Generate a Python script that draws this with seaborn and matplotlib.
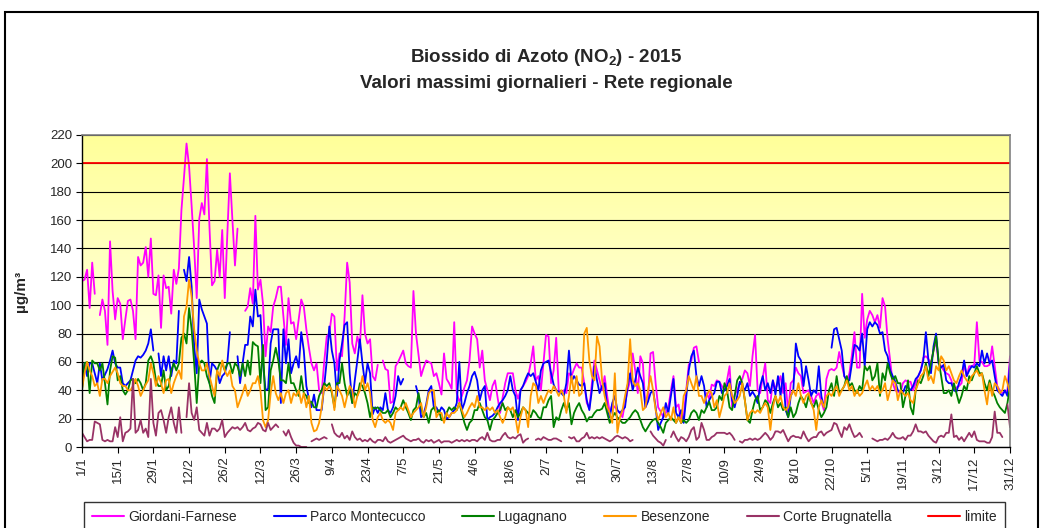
import numpy as np
import pandas as pd
import matplotlib
matplotlib.use('Agg')
import matplotlib.pyplot as plt
from matplotlib.colors import LinearSegmentedColormap
from matplotlib.patches import Rectangle
import seaborn as sns

nan = np.nan

# x tick labels, one every 14 days starting 1 January 2015
tick_labels = ['1/1', '15/1', '29/1', '12/2', '26/2', '12/3', '26/3', '9/4', '23/4',
               '7/5', '21/5', '4/6', '18/6', '2/7', '16/7', '30/7', '13/8', '27/8',
               '10/9', '24/9', '8/10', '22/10', '5/11', '19/11', '3/12', '17/12', '31/12']

# daily maxima (µg/m3), rows of 14 days
giordani = [
    117, 118, 125, 98, 130, 108, nan, 93, 104, 96, 72, 145, 110, 90,
    105, 101, 76, 90, 103, 104, 96, 76, 134, 128, 130, 141, 120, 147,
    108, 107, 121, 84, 121, 112, 113, 94, 125, 115, 126, 167, 190, 214,
    198, 170, 140, 105, 161, 172, 164, 203, 155, 114, 117, 139, 120, 153,
    105, 150, 193, 160, 128, 154, nan, nan, 96, 99, 112, 101, 163, 111,
    118, 101, 64, 85, 81, 99, 105, 113, 113, 92, 72, 105, 87, 88,
    76, 90, 104, 99, 83, 70, 59, 54, 59, 40, 38, 60, 78, 80,
    94, 92, 54, 66, 64, 92, 130, 116, 73, 66, 78, 71, 107, 80,
    73, 76, 50, 47, 58, nan, 61, 55, 54, 31, 32, 57, 60, 64,
    68, 59, 57, 56, 110, 80, 65, 50, 56, 61, 60, 59, 50, 52,
    45, 37, 66, 48, 45, 41, 88, 38, 32, 36, 42, 47, 61, 85,
    80, 76, 56, 68, 47, 40, 33, 43, 47, 35, 24, 35, 45, 52,
    52, 52, 40, 34, 40, 43, 46, 50, 59, 71, 47, 50, 40, 59,
    79, 78, 45, 54, 77, 40, 38, 40, 38, 52, 50, 55, 59, 56,
    56, 45, 31, 27, 45, 61, 54, 47, 40, 50, 36, 24, 30, 28,
    26, 24, 21, 31, 40, 47, 66, 54, 38, 64, 59, 28, 33, 66,
    67, 45, 28, 25, 21, 24, 28, 40, 50, 28, 30, 17, 21, 40,
    58, 61, 70, 71, 60, nan, nan, 38, 34, 44, 43, 47, 46, 43,
    40, 47, 57, 28, 37, 40, 45, 48, 54, 52, 43, 64, 79, 40,
    38, 49, 59, 33, 31, 47, 41, 45, 50, 38, 45, 24, 45, 47,
    56, 52, 50, 38, 39, 40, 36, 31, 36, 38, 32, 26, 48, 54,
    55, 54, 56, 67, 58, 50, 46, 52, 65, 81, 56, 56, 108, 77,
    90, 96, 93, 88, 93, 84, 105, 99, 76, 61, 45, 40, 39, 38,
    45, 47, 46, 46, 40, 45, 50, 54, 63, 64, 62, 59, 68, 75,
    59, 57, 54, 52, 51, 47, 40, 42, 43, 45, 59, 50, 57, 57,
    58, 88, 61, 60, 57, 57, 58, 71, 57, 43, 40, 38, 39, 40,
    64]

montecucco = [
    48, 59, 50, 59, 59, 52, 45, 59, 47, 51, 55, 61, 68, 59,
    56, 56, 45, 43, 45, 47, 54, 61, 64, 63, 65, 68, 73, 83,
    68, nan, 66, 50, 64, 54, 64, 50, 61, 59, 96, nan, 125, 117,
    134, 113, 71, 52, 104, 97, 92, 87, 45, 59, 57, 54, 45, 50,
    52, 59, 81, nan, nan, 64, 45, 59, 72, 72, 92, 85, 111, 92,
    93, 59, 40, 41, 73, 83, 83, 83, 31, 83, 59, 76, 52, 59,
    64, 56, 81, 68, 43, 34, 28, 37, 26, 26, 26, 43, 61, 85,
    68, 59, 36, 61, 73, 86, 88, 52, 31, 47, 61, 76, 59, 45,
    59, 52, 23, 28, 24, 28, 26, 38, 26, 24, 28, 36, 50, 44,
    48, nan, nan, nan, nan, 43, 36, 21, 23, 30, 40, 43, 28, 28,
    24, 28, 26, 20, 21, 24, 26, 31, 60, 26, 31, 38, 43, 50,
    53, 47, 33, 40, 43, 19, 21, 22, 24, 28, 31, 33, 36, 40,
    50, 40, 36, 19, 40, 43, 48, 52, 50, 52, 46, 40, 54, 59,
    60, 61, 52, 44, 40, 39, 38, 36, 45, 68, 46, 50, 47, 44,
    43, 45, 33, 26, 40, 57, 47, 38, 43, 45, 28, 21, 31, 36,
    26, 24, 26, 28, 43, 52, 40, 47, 56, 50, 45, 28, 32, 38,
    40, 28, 12, 17, 21, 31, 24, 36, 48, 24, 21, 26, 17, 35,
    54, 64, 68, 50, 43, 50, 43, 28, 33, 36, 38, 46, 46, 38,
    40, 43, 48, 33, 28, 36, 46, 43, 40, 45, 36, 39, 36, 31,
    43, 50, 40, 45, 38, 47, 37, 50, 36, 52, 26, 21, 36, 40,
    73, 64, 61, 43, 57, 47, 36, 40, 38, 57, 36, 28, nan, nan,
    70, 83, 84, 76, 68, 50, 47, 47, 59, 72, 71, 68, 80, 57,
    83, 88, 85, 88, 86, 80, 81, 68, 64, 54, 50, 46, 40, 39,
    38, 43, 42, 40, 43, 48, 50, 54, 61, 81, 61, 52, 71, 80,
    59, 56, 58, 47, 45, 45, 40, 39, 45, 50, 61, 50, 54, 57,
    56, 59, 57, 68, 59, 66, 59, 61, 50, 40, 38, 36, 40, 36,
    59]

lugagnano = [
    40, 59, 60, 38, 61, 59, 59, 54, 59, 45, 30, 54, 64, 63,
    47, 50, 40, 37, 40, 47, 48, 45, 48, 45, 40, 45, 61, 64,
    59, 47, 43, 43, 54, 40, 43, 54, 59, 54, 59, 77, 80, 73,
    98, 83, 59, 31, 59, 61, 59, 50, 45, 36, 31, 54, 59, 59,
    54, 59, 59, 52, 59, 57, 50, 59, 50, 61, 51, 74, 72, 71,
    45, 72, 26, 28, 54, 61, 70, 61, 47, 47, 45, 59, 45, 45,
    40, 36, 50, 38, 36, 31, 32, 28, 28, 36, 40, 45, 43, 45,
    38, 28, 45, 45, 59, 45, 36, 40, 31, 38, 36, 45, 43, 38,
    31, 21, 28, 27, 28, 26, 24, 24, 26, 21, 24, 28, 26, 28,
    33, 28, 24, 19, 26, 28, 38, 28, 21, 24, 17, 26, 28, 24,
    26, 19, 19, 24, 28, 26, 28, 26, 31, 24, 17, 12, 17, 19,
    26, 26, 31, 26, 21, 19, 12, 19, 21, 24, 26, 31, 26, 28,
    26, 21, 26, 21, 24, 28, 26, 24, 21, 26, 24, 21, 20, 28,
    28, 33, 36, 14, 21, 19, 26, 31, 26, 31, 16, 24, 28, 31,
    26, 23, 18, 21, 21, 24, 26, 26, 27, 31, 24, 17, 21, 24,
    21, 19, 17, 17, 19, 21, 24, 26, 24, 19, 14, 11, 14, 17,
    19, 20, 17, 14, 10, 17, 19, 21, 19, 17, 21, 17, 19, 17,
    19, 24, 26, 24, 19, 26, 24, 28, 32, 26, 26, 28, 36, 33,
    45, 40, 28, 26, 36, 47, 50, 45, 33, 19, 17, 26, 33, 36,
    26, 28, 33, 31, 24, 31, 36, 28, 31, 26, 28, 21, 28, 21,
    24, 31, 36, 33, 28, 36, 31, 28, 33, 26, 21, 24, 28, 40,
    45, 36, 50, 38, 40, 43, 50, 43, 45, 40, 38, 43, 40, 57,
    54, 57, 47, 50, 59, 36, 52, 47, 59, 52, 47, 50, 45, 45,
    28, 36, 47, 28, 23, 40, 47, 45, 50, 59, 50, 59, 68, 78,
    61, 50, 38, 38, 40, 36, 45, 38, 31, 36, 43, 40, 50, 47,
    52, 57, 52, 52, 45, 40, 47, 40, 36, 31, 28, 26, 24, 31,
    43]

besenzone = [
    41, 52, 60, 54, 50, 43, 45, 36, 48, 48, 45, 50, 53, 56,
    52, 45, 43, 43, 40, 40, 43, 48, 43, 36, 40, 44, 47, 59,
    52, 43, 50, 45, 38, 47, 48, 38, 45, 50, 54, 48, 92, 99,
    118, 106, 83, 68, 59, 54, 54, 59, 50, 43, 36, 54, 50, 61,
    54, 50, 54, 43, 40, 28, 33, 38, 44, 36, 40, 45, 45, 50,
    40, 19, 14, 19, 38, 50, 38, 33, 38, 31, 38, 40, 31, 38,
    36, 40, 31, 38, 28, 36, 17, 11, 12, 17, 28, 43, 40, 43,
    40, 26, 43, 40, 36, 28, 36, 43, 40, 28, 36, 40, 50, 40,
    45, 38, 19, 14, 21, 24, 19, 17, 19, 17, 12, 24, 26, 28,
    26, 31, 26, 21, 24, 26, 28, 31, 21, 28, 38, 40, 40, 21,
    24, 24, 17, 24, 21, 24, 24, 26, 31, 26, 21, 24, 28, 31,
    28, 36, 28, 28, 26, 28, 26, 28, 24, 26, 21, 17, 21, 28,
    26, 28, 21, 10, 21, 28, 26, 14, 36, 45, 43, 31, 36, 31,
    36, 40, 38, 43, 40, 36, 40, 36, 24, 36, 50, 38, 50, 36,
    38, 80, 84, 61, 50, 47, 78, 71, 47, 36, 28, 24, 17, 52,
    10, 21, 26, 36, 45, 76, 47, 43, 45, 40, 26, 28, 40, 50,
    40, 26, 19, 24, 28, 21, 24, 19, 28, 17, 21, 17, 36, 40,
    50, 45, 40, 50, 36, 36, 31, 36, 40, 38, 28, 33, 21, 28,
    36, 38, 45, 36, 31, 33, 36, 45, 33, 19, 24, 26, 24, 26,
    24, 28, 31, 28, 12, 28, 36, 31, 36, 28, 26, 28, 36, 40,
    36, 45, 36, 31, 36, 38, 31, 26, 12, 28, 33, 28, 36, 38,
    36, 40, 43, 36, 40, 43, 47, 40, 43, 36, 40, 36, 38, 43,
    47, 40, 43, 40, 43, 38, 40, 45, 33, 40, 47, 45, 33, 40,
    38, 36, 38, 33, 31, 40, 45, 50, 52, 57, 47, 50, 45, 57,
    54, 64, 61, 54, 57, 52, 47, 45, 50, 54, 50, 47, 45, 50,
    52, 54, 50, 52, 40, 30, 45, 36, 45, 43, 38, 40, 50, 45,
    38]

brugnatella = [
    10, 7, 4, 5, 5, 18, 17, 16, 5, 4, 5, 4, 4, 14,
    7, 21, 4, 10, 11, 13, 48, 10, 12, 19, 10, 13, 7, 48,
    17, 8, 24, 26, 19, 10, 21, 28, 17, 10, 28, 10, nan, 21,
    45, 24, 19, 28, 12, 10, 8, 17, 8, 13, 13, 11, 13, 19,
    7, 10, 12, 14, 13, 14, 12, 14, 17, 12, 11, 13, 14, 17,
    16, 12, 11, 17, 12, 14, 16, 14, nan, 11, 8, 12, 7, 3,
    1, 1, 0, 0, 0, nan, 4, 5, 6, 5, 6, 7, 6, nan,
    16, 10, 8, 7, 10, 6, 8, 5, 11, 7, 5, 6, 4, 5,
    4, 6, 4, 3, 5, 5, 4, 7, 4, 3, 4, 5, 6, 7,
    8, 6, 5, 4, 5, 5, 6, 4, 3, 5, 4, 5, 3, 4,
    5, 3, 4, 4, 4, 3, 4, 5, 4, 5, 4, 5, 4, 5,
    5, 4, 6, 7, 5, 10, 5, 4, 4, 5, 5, 8, 10, 7,
    6, 7, 6, 8, 9, 3, 5, 6, nan, nan, 5, 6, 5, 7,
    6, 5, 5, 6, 6, 5, 4, nan, nan, 7, 6, 7, 4, 4,
    6, 7, 10, 6, 7, 6, 7, 6, 7, 6, 5, 4, 5, 7,
    8, 7, 6, 7, 6, 4, 5, nan, nan, nan, nan, nan, nan, 11,
    8, 6, 4, 3, 1, 5, nan, 7, 11, 7, 4, 7, 6, 4,
    7, 12, 14, 5, 7, 17, 12, 5, 5, 7, 8, 10, 10, 10,
    10, 9, 10, 8, 5, nan, 4, 3, 5, 5, 6, 5, 6, 5,
    6, 8, 10, 8, 5, 7, 11, 11, 10, 12, 8, 4, 7, 8,
    7, 7, 6, 11, 7, 4, 6, 7, 7, 10, 11, 8, 10, 11,
    12, 17, 16, 11, 7, 14, 12, 16, 11, 7, 8, 10, 7, nan,
    nan, nan, 6, 5, 4, 5, 5, 6, 5, 7, 10, 7, 6, 6,
    7, 5, 8, 8, 11, 16, 11, 11, 10, 11, 8, 6, 4, 3,
    7, 8, 7, 10, 10, 23, 7, 8, 5, 7, 4, 7, 10, 7,
    11, 5, 4, 4, 4, 3, 3, 7, 25, 10, 10, 7, nan, 30,
    14]

limit_value = 200

stations = ['Giordani-Farnese', 'Parco Montecucco', 'Lugagnano', 'Besenzone',
            'Corte Brugnatella', 'limite']
palette = {'Giordani-Farnese': '#FF00FF', 'Parco Montecucco': '#0000FF',
           'Lugagnano': '#008000', 'Besenzone': '#FF9900',
           'Corte Brugnatella': '#993366', 'limite': '#FF0000'}

days = np.arange(365)
values = [giordani, montecucco, lugagnano, besenzone, brugnatella, [limit_value] * 365]
frames = []
for s, v in zip(stations, values):
    assert len(v) == 365
    d = pd.DataFrame({'day': days, 'value': np.array(v, dtype=float), 'station': s})
    # missing days break the line, as in the original spreadsheet chart
    d['segment'] = s + '_' + d['value'].isna().cumsum().astype(str)
    frames.append(d.dropna())
df = pd.concat(frames, ignore_index=True)

sns.set_style('white')
plt.rcParams['font.family'] = ['Liberation Sans', 'DejaVu Sans']
plt.rcParams['mathtext.fontset'] = 'custom'
plt.rcParams['mathtext.rm'] = 'Liberation Sans'
plt.rcParams['mathtext.bf'] = 'Liberation Sans:bold'

fig = plt.figure(figsize=(10.42, 5.28), dpi=100)
ax = fig.add_axes([82 / 1042, 1 - 447 / 528, 928 / 1042, 312 / 528])

# yellow-to-white plot area
cmap = LinearSegmentedColormap.from_list('bg', ['#FFFFFF', '#FFFF99'])
ax.imshow(np.linspace(0, 1, 256).reshape(-1, 1), extent=[0, 364, 0, 220],
          origin='lower', aspect='auto', cmap=cmap, zorder=0)

sns.lineplot(data=df, x='day', y='value', hue='station', hue_order=stations,
             units='segment', palette=palette, estimator=None, linewidth=1.3,
             sort=True, ax=ax)

ax.set_xlim(0, 364)
ax.set_ylim(0, 220)
ax.set_yticks(range(0, 221, 20))
ax.set_xticks(range(0, 365, 14))
ax.set_xticklabels(tick_labels, rotation=90, va='top', ha='center')
ax.yaxis.grid(True, color='black', linewidth=0.8)
ax.xaxis.grid(False)
ax.tick_params(axis='both', direction='out', length=4, width=0.8, color='black',
               labelsize=9.5, left=True, bottom=True, pad=3)
ax.set_xlabel('')
ax.set_ylabel('µg/m³', fontsize=11, fontweight='bold', labelpad=16)
for side in ['left', 'bottom']:
    ax.spines[side].set_color('black')
    ax.spines[side].set_linewidth(1.0)
for side in ['top', 'right']:
    ax.spines[side].set_color('#808080')
    ax.spines[side].set_linewidth(1.2)

handles, labels = ax.get_legend_handles_labels()
ax.get_legend().remove()
for h in handles:
    h.set_linewidth(1.5)
leg = fig.legend(handles, labels, loc='upper left',
                 bbox_to_anchor=(84 / 1042, 1 - 502 / 528, 921 / 1042, 0),
                 mode='expand', ncol=6, fontsize=10, frameon=True, fancybox=False,
                 edgecolor='black', handlelength=2.3, handletextpad=0.3,
                 borderpad=0.6, borderaxespad=0)
leg.get_frame().set_linewidth(1.0)

fig.text(546 / 1042, 1 - 57 / 528, r'Biossido di Azoto (NO$_\mathbf{2}$) - 2015',
         ha='center', va='center', fontsize=13.5, fontweight='bold')
fig.text(546 / 1042, 1 - 83 / 528, 'Valori massimi giornalieri - Rete regionale',
         ha='center', va='center', fontsize=13.5, fontweight='bold')

fig.patches.append(Rectangle((5 / 1042, -0.05), 1033 / 1042, 1.05 - 12 / 528,
                             transform=fig.transFigure, fill=False,
                             edgecolor='black', linewidth=1.5))

fig.savefig('out.png', dpi=100)
